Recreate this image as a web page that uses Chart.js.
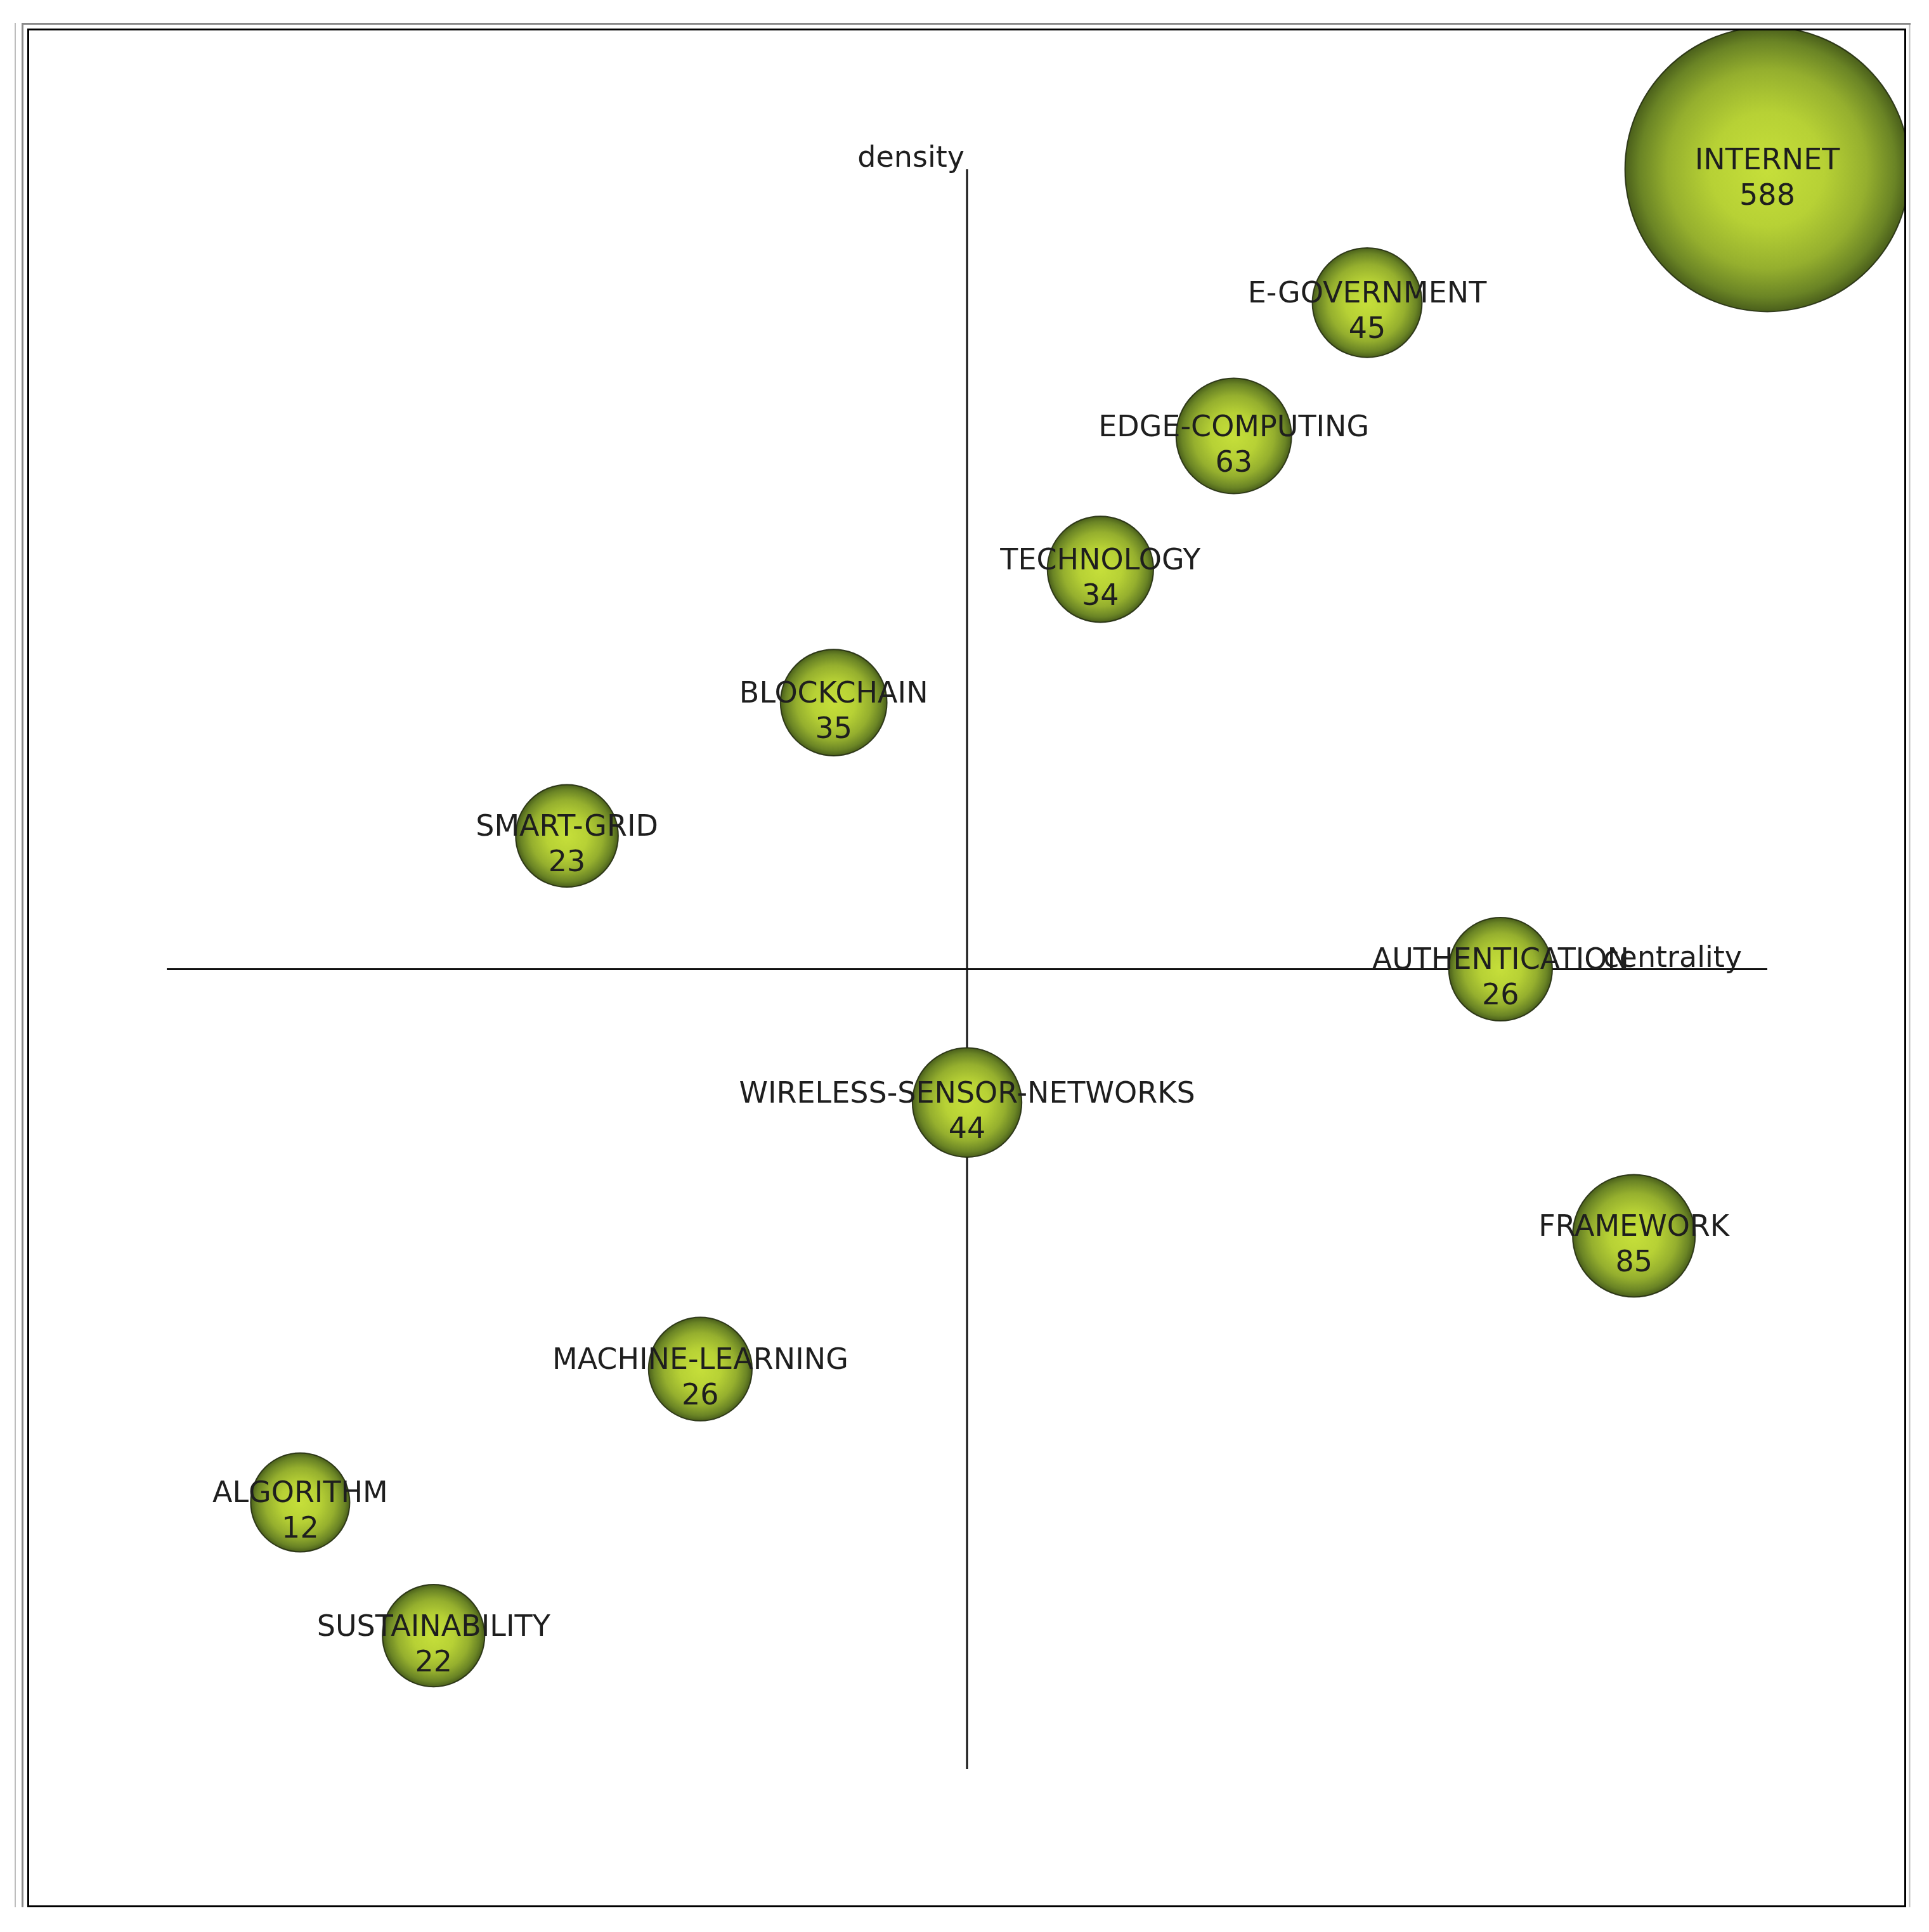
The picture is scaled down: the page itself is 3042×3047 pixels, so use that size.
<!DOCTYPE html>
<html>
<head>
<meta charset="utf-8">
<title>Strategic diagram</title>
<script src="https://cdn.jsdelivr.net/npm/chart.js@4.4.1/dist/chart.umd.min.js"></script>
<style>
  html, body { margin: 0; padding: 0; background: #fff; }
  #wrap { width: 3042px; height: 3047px; }
</style>
</head>
<body>
<div id="wrap"><canvas id="diagram" width="3042" height="3047"></canvas></div>
<script>
// themes: centrality rank (x), density rank (y), number of documents
const keywords = ['INTERNET', 'E-GOVERNMENT', 'EDGE-COMPUTING', 'TECHNOLOGY', 'BLOCKCHAIN', 'SMART-GRID',
    'AUTHENTICATION', 'WIRELESS-SENSOR-NETWORKS', 'FRAMEWORK', 'MACHINE-LEARNING', 'ALGORITHM', 'SUSTAINABILITY'];
const centrality = [12, 9, 8, 7, 5, 3, 10, 6, 11, 4, 1, 2];
const density = [12, 11, 10, 9, 8, 7, 6, 5, 4, 3, 2, 1];
const documents = [588, 45, 63, 34, 35, 23, 26, 44, 85, 26, 12, 22];

const axisLabels = ['centrality', 'density'];
const FONT = '46px "DejaVu Sans", Verdana, sans-serif';

// bubble size grows with the number of documents
function bubbleRadius(n) {
    return 75 + 0.254 * n;
}

function bubbleFill(ctx) {
    const chart = ctx.chart;
    const i = ctx.dataIndex;
    if (!chart.chartArea || i === undefined) return '#b5cf35';
    const x = chart.scales.x.getPixelForValue(centrality[i]);
    const y = chart.scales.y.getPixelForValue(density[i]);
    const r = bubbleRadius(documents[i]);
    const g = chart.ctx.createRadialGradient(x, y, 0, x, y, r);
    g.addColorStop(0, '#c6df3a');
    g.addColorStop(0.4, '#b7d135');
    g.addColorStop(0.7, '#95af2e');
    g.addColorStop(0.9, '#6a8425');
    g.addColorStop(1, '#4a5f1b');
    return g;
}

// frame around the diagram
const framePlugin = {
    id: 'frame',
    afterDraw(chart) {
        const c = chart.ctx;
        c.save();
        c.lineCap = 'butt';
        c.strokeStyle = '#bdbdbd';
        c.lineWidth = 2;
        c.beginPath();
        c.moveTo(24, 36); c.lineTo(24, 3008);
        c.moveTo(3011.5, 37); c.lineTo(3011.5, 3008);
        c.stroke();
        c.strokeStyle = '#8a8a8a';
        c.lineWidth = 3;
        c.beginPath();
        c.moveTo(35.5, 3008); c.lineTo(35.5, 37.5); c.lineTo(3013, 37.5);
        c.stroke();
        c.strokeStyle = '#000';
        c.lineWidth = 3;
        c.strokeRect(44.5, 46.5, 2960, 2960);
        c.restore();
    }
};

// quadrant axes through the middle
const quadrantPlugin = {
    id: 'quadrants',
    beforeDatasetsDraw(chart) {
        const c = chart.ctx;
        const xs = chart.scales.x, ys = chart.scales.y;
        const x0 = xs.getPixelForValue(0), x1 = xs.getPixelForValue(12), xm = xs.getPixelForValue(6);
        const y0 = ys.getPixelForValue(0), y1 = ys.getPixelForValue(12), ym = ys.getPixelForValue(6);
        c.save();
        c.strokeStyle = '#111';
        c.lineWidth = 3;
        c.beginPath();
        c.moveTo(x0, ym); c.lineTo(x1, ym);
        c.moveTo(xm, y0); c.lineTo(xm, y1);
        c.stroke();
        c.fillStyle = '#1e1e1e';
        c.font = FONT;
        c.textAlign = 'right';
        c.textBaseline = 'alphabetic';
        c.fillText(axisLabels[0], x1 - 40, ym - 3);
        c.fillText(axisLabels[1], xm - 4, y1 - 4);
        c.restore();
    }
};

// keyword and document count on each bubble
const labelPlugin = {
    id: 'bubbleLabels',
    afterDatasetsDraw(chart) {
        const c = chart.ctx;
        const meta = chart.getDatasetMeta(0);
        c.save();
        c.font = FONT;
        c.fillStyle = '#1e1e1e';
        c.textAlign = 'center';
        c.textBaseline = 'alphabetic';
        meta.data.forEach((el, i) => {
            c.fillText(keywords[i], el.x, el.y);
            c.fillText(String(documents[i]), el.x, el.y + 56);
        });
        c.restore();
    }
};

const points = keywords.map((k, i) => ({ x: centrality[i], y: density[i] }));

new Chart(document.getElementById('diagram'), {
    type: 'bubble',
    data: {
        labels: keywords,
        datasets: [{
            data: points,
            radius: ctx => bubbleRadius(documents[ctx.dataIndex]),
            backgroundColor: bubbleFill,
            borderColor: 'rgba(35,45,15,0.9)',
            borderWidth: 2,
            clip: 0
        }]
    },
    options: {
        responsive: false,
        maintainAspectRatio: false,
        animation: false,
        events: [],
        layout: { autoPadding: false, padding: { left: 46, top: 48, right: 39, bottom: 42 } },
        scales: {
            x: { type: 'linear', min: -1.032, max: 13.027, display: false },
            y: { type: 'linear', min: -1.023, max: 13.042, display: false }
        },
        plugins: {
            legend: { display: false },
            tooltip: { enabled: false }
        }
    },
    plugins: [framePlugin, quadrantPlugin, labelPlugin]
});
</script>
</body>
</html>
